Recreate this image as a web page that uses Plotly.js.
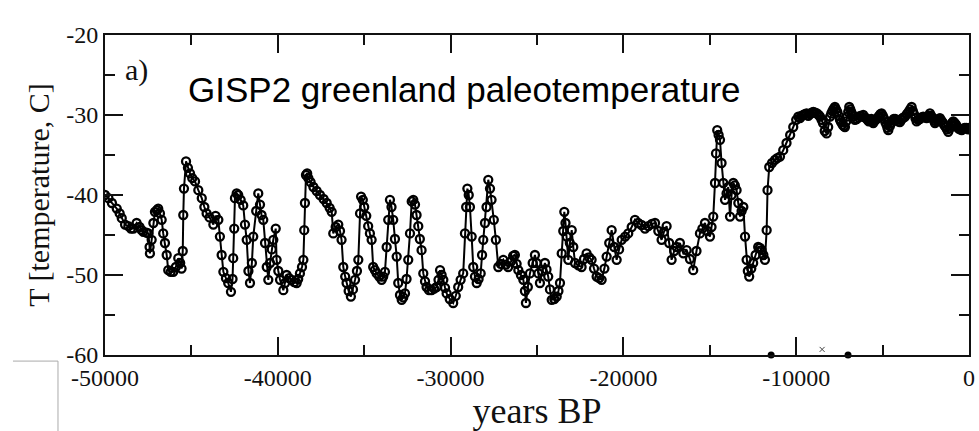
<!DOCTYPE html>
<html>
<head>
<meta charset="utf-8">
<script src="https://cdn.plot.ly/plotly-3.0.1.min.js"></script>
<style>html,body{margin:0;padding:0;background:#fff;}#chart{width:979px;height:431px;}</style>
</head>
<body>
<div id="chart"></div>
<script>
// GISP2 Greenland paleotemperature
const years = [
-50000,-49800,-49600,-49320,-49150,-49030,-48840,-48650,-48500,-48360,-48170,-48000,-47880,-47780,-47600,-47490,-47420,-47400,-47300,-47200,
-47110,-47000,-46920,-46820,-46720,-46630,-46530,-46430,-46340,-46200,-46050,-45900,-45760,-45650,-45570,-45500,-45470,-45430,-45310,-45200,
-45080,-44950,-44790,-44600,-44400,-44250,-44120,-43950,-43730,-43600,-43440,-43350,-43250,-43150,-43000,-42870,-42710,-42620,-42580,-42520,
-42480,-42380,-42290,-42150,-42000,-41900,-41800,-41700,-41610,-41500,-41420,-41250,-41130,-41030,-40940,-40840,-40740,-40640,-40550,-40450,
-40350,-40260,-40120,-40070,-39970,-39870,-39680,-39580,-39490,-39350,-39200,-39050,-38910,-38820,-38720,-38600,-38520,-38470,-38430,-38370,
-38300,-38230,-38100,-37940,-37750,-37560,-37350,-37170,-37000,-36880,-36790,-36650,-36500,-36400,-36310,-36210,-36100,-36020,-35900,-35770,
-35650,-35530,-35420,-35340,-35240,-35180,-35080,-35000,-34880,-34770,-34670,-34570,-34480,-34380,-34280,-34130,-33990,-33900,-33800,-33700,
-33610,-33510,-33420,-33320,-33220,-33120,-33030,-32930,-32830,-32740,-32640,-32550,-32450,-32350,-32250,-32160,-32060,-31970,-31870,-31780,
-31680,-31580,-31480,-31390,-31250,-31100,-30950,-30810,-30700,-30610,-30520,-30420,-30320,-30230,-30050,-29850,-29700,-29560,-29420,-29270,
-29170,-29100,-29030,-28950,-28880,-28780,-28690,-28590,-28490,-28380,-28260,-28180,-28110,-28010,-27920,-27820,-27720,-27630,-27500,-27380,
-27240,-27100,-26950,-26800,-26670,-26500,-26380,-26280,-26180,-26080,-25930,-25790,-25700,-25640,-25530,-25410,-25250,-25120,-25020,-24920,
-24830,-24700,-24540,-24450,-24350,-24250,-24150,-24000,-23860,-23760,-23670,-23570,-23480,-23420,-23350,-23280,-23190,-23100,-22990,-22900,
-22800,-22600,-22420,-22280,-22130,-21980,-21840,-21700,-21550,-21400,-21260,-21100,-20970,-20820,-20680,-20530,-20390,-20250,-20100,-19900,
-19720,-19520,-19330,-19150,-18950,-18750,-18560,-18350,-18170,-17980,-17790,-17650,-17500,-17350,-17210,-17060,-16920,-16730,-16530,-16340,
-16150,-15960,-15770,-15570,-15430,-15280,-15130,-14990,-14900,-14800,-14700,-14640,-14570,-14490,-14410,-14320,-14220,-14120,-14030,-13930,
-13830,-13740,-13640,-13550,-13450,-13350,-13250,-13160,-13060,-12960,-12870,-12800,-12720,-12600,-12490,-12350,-12200,-12100,-12000,-11900,
-11810,-11710,-11660,-11560,-11400,-11230,-11100,-10940,-10750,-10560,-10350,-10170,-10000,-9880,-9780,-9700,-9590,-9500,-9400,-9300,
-9200,-9100,-9010,-8900,-8800,-8700,-8620,-8530,-8450,-8350,-8240,-8150,-8040,-7970,-7900,-7830,-7760,-7690,-7620,-7540,
-7470,-7400,-7320,-7250,-7180,-7110,-7050,-6990,-6930,-6870,-6820,-6760,-6700,-6600,-6500,-6400,-6300,-6210,-6120,-6030,
-5950,-5870,-5800,-5720,-5650,-5590,-5540,-5450,-5350,-5270,-5200,-5130,-5060,-4980,-4900,-4840,-4780,-4720,-4670,-4580,
-4500,-4420,-4350,-4270,-4190,-4100,-4000,-3920,-3850,-3770,-3700,-3600,-3500,-3410,-3320,-3250,-3180,-3100,-3030,-2940,
-2850,-2750,-2650,-2550,-2450,-2350,-2260,-2180,-2100,-2030,-1970,-1900,-1820,-1750,-1680,-1590,-1500,-1420,-1350,-1270,
-1200,-1120,-1050,-980,-910,-830,-750,-680,-600,-510,-420,-330,-250,-170,-100,-40,0
];
const temperature = [
-40.0,-40.4,-41.0,-41.7,-42.3,-42.9,-43.7,-43.9,-44.2,-44.2,-43.5,-44.0,-44.4,-44.6,-44.7,-44.8,-46.5,-47.3,-45.6,-43.5,
-42.1,-41.9,-41.7,-42.3,-43.1,-44.8,-46.0,-47.5,-49.4,-49.6,-49.6,-49.0,-47.9,-48.5,-49.2,-47.0,-42.5,-39.2,-35.8,-36.6,
-37.3,-37.9,-38.3,-39.4,-40.4,-41.5,-42.3,-42.8,-43.7,-42.6,-43.1,-45.2,-47.5,-49.6,-50.4,-51.0,-52.1,-50.5,-47.9,-44.2,
-40.4,-39.8,-40.0,-40.6,-41.3,-43.7,-45.6,-49.5,-51.0,-48.5,-45.2,-42.0,-39.8,-41.2,-42.5,-43.1,-46.0,-49.0,-50.6,-48.5,
-46.8,-45.6,-44.2,-48.1,-49.5,-50.6,-51.9,-51.0,-50.0,-50.4,-50.6,-50.9,-51.0,-50.5,-49.8,-49.0,-48.1,-44.4,-41.0,-37.5,
-37.3,-37.9,-38.4,-39.0,-39.5,-40.0,-40.5,-41.0,-41.6,-42.1,-44.8,-44.0,-43.7,-44.5,-45.6,-49.0,-50.2,-51.0,-52.0,-52.7,
-51.8,-50.6,-49.5,-48.1,-42.3,-40.2,-40.6,-41.5,-42.6,-43.9,-44.8,-45.6,-49.0,-49.4,-49.8,-50.2,-50.6,-50.2,-49.6,-46.5,
-43.1,-40.6,-41.5,-43.1,-45.5,-47.7,-51.0,-52.5,-53.1,-52.8,-52.3,-50.5,-48.1,-44.8,-40.8,-40.6,-41.2,-42.5,-43.9,-45.5,
-46.9,-49.8,-50.8,-51.5,-51.9,-51.9,-51.7,-51.5,-50.6,-49.4,-50.0,-50.6,-51.6,-52.3,-53.0,-53.5,-52.6,-51.5,-50.6,-49.8,
-44.8,-41.5,-39.2,-40.0,-41.5,-45.2,-49.0,-50.2,-51.0,-50.5,-49.8,-47.5,-45.6,-43.5,-41.5,-38.1,-39.2,-40.6,-43.1,-45.6,
-49.0,-48.6,-48.1,-48.7,-49.0,-48.3,-47.6,-47.5,-48.6,-49.4,-50.0,-50.6,-52.0,-53.5,-51.5,-49.8,-48.5,-47.5,-48.5,-49.8,
-51.0,-49.5,-48.5,-49.3,-50.2,-51.8,-53.1,-53.0,-52.7,-52.0,-51.0,-47.3,-44.5,-42.1,-43.5,-45.2,-48.1,-46.0,-44.4,-46.5,
-48.5,-48.8,-49.0,-48.0,-47.3,-47.8,-48.1,-49.2,-50.2,-50.4,-50.6,-49.2,-47.7,-46.0,-44.4,-46.5,-48.1,-46.8,-45.6,-45.2,
-44.8,-44.0,-43.1,-43.5,-43.75,-44.2,-43.9,-43.6,-43.5,-44.5,-45.6,-44.6,-43.9,-46.0,-48.1,-47.0,-46.5,-46.0,-47.3,-46.9,
-48.0,-49.4,-47.0,-44.8,-44.2,-43.5,-44.5,-45.2,-44.0,-42.7,-38.5,-34.8,-31.9,-32.5,-33.1,-36.0,-38.5,-40.6,-39.8,-39.0,
-42.7,-40.0,-38.5,-38.8,-39.4,-41.0,-42.7,-42.0,-41.5,-45.2,-48.1,-49.5,-50.2,-49.2,-48.5,-47.5,-46.5,-46.6,-46.9,-47.5,
-48.1,-44.4,-39.4,-36.5,-36.0,-35.6,-35.4,-35.2,-34.4,-33.5,-32.5,-31.5,-30.6,-30.2,-30.4,-30.1,-30.0,-29.9,-29.8,-30.1,
-29.9,-29.7,-29.6,-29.7,-29.8,-30.0,-30.2,-30.6,-31.0,-32.0,-32.3,-31.5,-30.2,-29.8,-29.5,-29.2,-29.0,-29.3,-29.6,-30.1,
-30.6,-30.9,-31.2,-31.4,-31.5,-30.8,-30.2,-29.6,-29.0,-29.3,-29.6,-29.9,-30.2,-30.6,-30.5,-30.3,-30.1,-30.2,-30.0,-30.3,
-30.4,-30.6,-30.8,-30.7,-30.5,-30.8,-31.0,-30.7,-30.5,-30.3,-30.1,-29.9,-29.8,-30.1,-30.5,-30.9,-31.2,-31.6,-31.9,-31.4,
-31.0,-30.7,-30.5,-30.5,-30.6,-30.8,-30.9,-30.6,-30.4,-30.3,-30.2,-29.9,-29.6,-29.3,-29.0,-29.5,-29.9,-30.4,-30.8,-30.6,
-30.5,-30.3,-30.2,-30.3,-30.4,-30.1,-29.8,-30.1,-30.4,-30.7,-31.0,-30.8,-30.6,-30.5,-30.4,-30.7,-31.0,-31.3,-31.5,-31.8,
-32.1,-31.7,-31.3,-31.0,-30.8,-31.0,-31.2,-31.5,-31.7,-31.8,-31.9,-31.7,-31.6,-31.6,-31.7,-31.8,-31.6
];
// tick positions and their printed labels (hyphen-minus, full numbers as in the figure)
const xTickVals = [-50000, -40000, -30000, -20000, -10000, 0];
const xTickText = ['-50000', '-40000', '-30000', '-20000', '-10000', '0'];
const yTickVals = [-60, -50, -40, -30, -20];
const yTickText = ['-60', '-50', '-40', '-30', '-20'];
// stray marks sitting on the bottom axis of the reference
const strayDotYears = [-11450, -7000];
const strayDotT = [-60, -60];
const strayCrossYears = [-8500];
const strayCrossT = [-59.3];

const xTitle = 'years BP';
const yTitle = 'T [temperature, C]';
const panelLabel = 'a)';
const chartTitle = 'GISP2 greenland paleotemperature';

const serif = '"Liberation Serif", "Times New Roman", serif';
const sans = '"Liberation Sans", Arial, sans-serif';

const traces = [
  {
    x: years, y: temperature, type: 'scatter', mode: 'lines+markers',
    line: {color: '#000', width: 2},
    marker: {symbol: 'circle-open', size: 8, color: '#000', line: {color: '#000', width: 2.3}},
    hoverinfo: 'x+y', showlegend: false
  },
  {
    x: strayDotYears, y: strayDotT, type: 'scatter', mode: 'markers',
    marker: {symbol: 'circle', size: 7, color: '#000'}, cliponaxis: false, showlegend: false
  },
  {
    x: strayCrossYears, y: strayCrossT, type: 'scatter', mode: 'markers',
    marker: {symbol: 'x-thin-open', size: 5, color: '#444', line: {color: '#444', width: 1}}, cliponaxis: false, showlegend: false
  }
];

const layout = {
  width: 979, height: 431,
  margin: {l: 105, r: 10, t: 35, b: 76},
  paper_bgcolor: '#fff', plot_bgcolor: '#fff',
  showlegend: false,
  xaxis: {
    range: [-50000, 0], showgrid: false, zeroline: false,
    showline: true, linecolor: '#111', linewidth: 2, mirror: 'ticks',
    tickmode: 'array', tickvals: xTickVals, ticktext: xTickText,
    ticks: 'inside', ticklen: 18, tickwidth: 2, tickcolor: '#111',
    minor: {tickmode: 'linear', tick0: -50000, dtick: 5000, ticks: 'inside', ticklen: 10, tickwidth: 2, tickcolor: '#111'},
    tickfont: {family: serif, size: 24, color: '#111'},
    title: {text: xTitle, font: {family: serif, size: 36, color: '#111'}, standoff: 2}
  },
  yaxis: {
    range: [-60, -20], showgrid: false, zeroline: false,
    showline: true, linecolor: '#111', linewidth: 2, mirror: 'ticks',
    tickmode: 'array', tickvals: yTickVals, ticktext: yTickText,
    ticks: 'inside', ticklen: 18, tickwidth: 2, tickcolor: '#111',
    minor: {tickmode: 'linear', tick0: -60, dtick: 5, ticks: 'inside', ticklen: 10, tickwidth: 2, tickcolor: '#111'},
    tickfont: {family: serif, size: 24, color: '#111'},
    title: {text: yTitle, font: {family: serif, size: 30, color: '#111'}, standoff: 8}
  },
  annotations: [
    {text: panelLabel, xref: 'paper', yref: 'paper', x: 0.037, y: 0.89, xanchor: 'center', yanchor: 'middle',
     showarrow: false, font: {family: serif, size: 30, color: '#111'}},
    {text: chartTitle, xref: 'paper', yref: 'paper', x: 0.094, y: 0.83, xanchor: 'left', yanchor: 'middle',
     showarrow: false, font: {family: sans, size: 35, color: '#000'}}
  ],
  shapes: [
    {type: 'line', xref: 'paper', yref: 'paper', x0: -0.1065, x1: -0.0544, y0: -0.019, y1: -0.019, line: {color: '#aaa', width: 1}},
    {type: 'line', xref: 'paper', yref: 'paper', x0: -0.0544, x1: -0.0544, y0: -0.019, y1: -0.24, line: {color: '#aaa', width: 1}}
  ]
};

Plotly.newPlot('chart', traces, layout, {displayModeBar: false, staticPlot: true});
</script>
</body>
</html>
